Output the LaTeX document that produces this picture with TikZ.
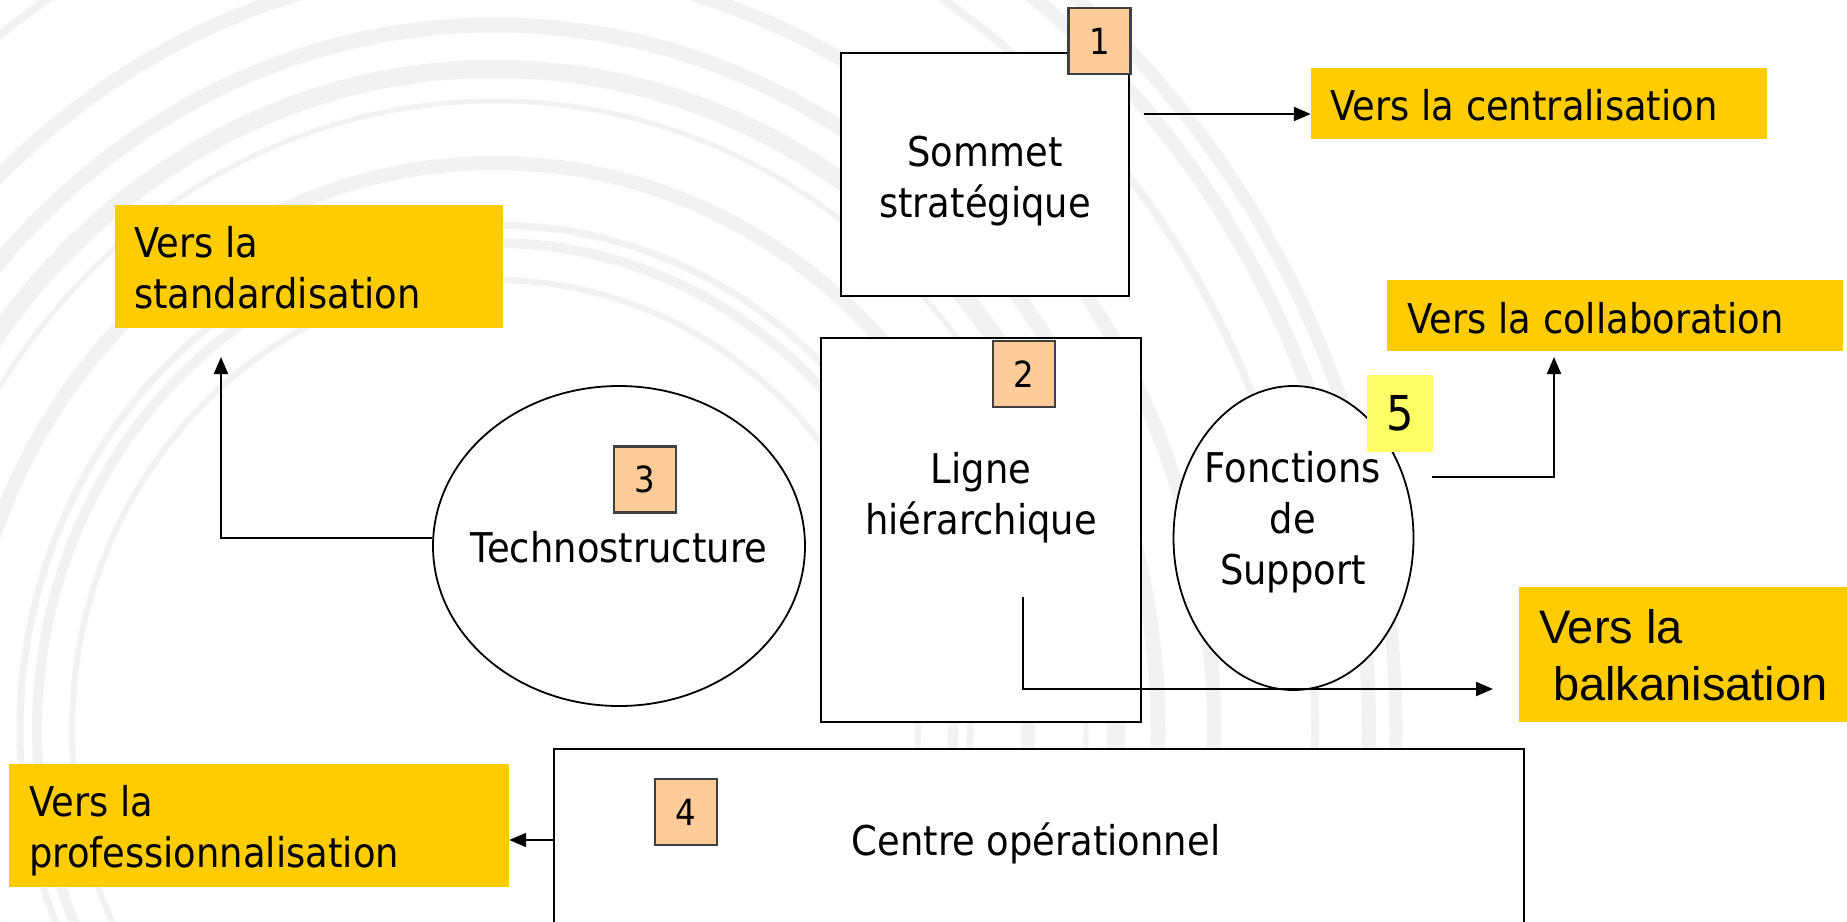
\documentclass[tikz,border=0pt]{standalone}
\usepackage{fontspec}
\setmainfont{DejaVu Sans}[FakeStretch=0.9]
\newfontfamily\balkfont{Liberation Sans}
\usetikzlibrary{arrows.meta,shapes.geometric}
\definecolor{gold}{HTML}{FFCC00}
\definecolor{peach}{HTML}{FFCC99}
\definecolor{lemon}{HTML}{FFFF66}
\definecolor{ringc}{HTML}{F2F2F2}
\begin{document}
\begin{tikzpicture}[x=1pt,y=-1pt,
  box/.style={draw=black, line width=2pt, fill=white, inner sep=0pt},
  oval/.style={ellipse, draw=black, line width=1.8pt, fill=white, inner sep=0pt},
  goal/.style={fill=gold, inner sep=0pt},
  badge/.style={draw=black!75, line width=2.5pt, fill=peach, minimum width=62pt, minimum height=66pt, inner sep=0pt, font=\fontsize{36}{42}\selectfont},
  lbl/.style={inner sep=0pt, align=center, font=\fontsize{41}{51}\selectfont},
  lbll/.style={inner sep=0pt, align=left, anchor=west, font=\fontsize{41}{51}\selectfont},
  arr/.style={line width=2pt, -{Triangle[length=17pt,width=14pt]}},
]
\useasboundingbox (0,0) rectangle (1847,921);
\clip (0,0) rectangle (1847,921);
\fill[white] (0,0) rectangle (1847,921);
% background rings
\foreach \rx/\ry/\w in {423/450/6, 458/487/10, 475/505/7, 533/567/14, 591/629/5, 621/661/18, 663/705/15, 719/765/14, 820/872/8, 874/930/14, 901/958/13}
  \draw[ringc, line width=\w pt] (495,730) ellipse [x radius=\rx pt, y radius=\ry pt];

% main shapes
\node[box, minimum width=288pt, minimum height=243pt] (sommet) at (985,174.5) {};
\node[box, minimum width=320pt, minimum height=384pt] (ligne) at (981,530) {};
\node[box, minimum width=970pt, minimum height=251pt] (op) at (1039,874.5) {};
\node[oval, minimum width=372pt, minimum height=320pt] (techno) at (619,546) {};
\node[oval, minimum width=240pt, minimum height=304pt] (support) at (1293.5,538) {};

% goal boxes
\node[goal, minimum width=388pt, minimum height=123pt] (std) at (309,266.5) {};
\node[goal, minimum width=456pt, minimum height=71pt] (centr) at (1539,103.5) {};
\node[goal, minimum width=456pt, minimum height=71pt] (collab) at (1615,315.5) {};
\node[goal, minimum width=331pt, minimum height=135pt] (balk) at (1684.5,654.5) {};
\node[goal, minimum width=500pt, minimum height=123pt] (prof) at (259,825.5) {};

% labels
\node[lbl] (tsommet) at (985,181.3) {\strut Sommet\\\strut stratégique};
\node[lbl] (tligne) at (981,498.8) {\strut Ligne\\\strut hiérarchique};
\node[lbl] (tsupport) at (1293,522.8) {\strut Fonctions\\\strut de\\\strut Support};
\node[lbl] (ttechno) at (619,551.8) {\strut Technostructure};
\node[lbl] (top) at (1036,844.8) {\strut Centre opérationnel};
\node[lbll] (tstd) at (134,272.3) {\strut Vers la\\\strut standardisation};
\node[lbll] (tcentr) at (1330,109.8) {\strut Vers la centralisation};
\node[lbll] (tcollab) at (1407,322.8) {\strut Vers la collaboration};
\node[lbll] (tprof) at (29,831.8) {\strut Vers la\\\strut professionnalisation};
\node[inner sep=0pt, align=left, anchor=west, font=\balkfont\fontsize{47}{57}\selectfont] (tbalk) at (1539,660.1) {\strut Vers la\\\strut\hspace{14pt}balkanisation};

% connectors
\coordinate (cs) at (1144,114);
\draw[arr] (cs) -- (cs -| centr.west);
\coordinate (st) at (221,357);
\draw[arr] ([yshift=8pt]techno.west) -| (st);
\coordinate (ls) at (1023,597);
\coordinate (bt) at (1493,689);
\draw[arr] (ls) |- (bt);
\coordinate (ss) at (1432,477);
\coordinate (ct) at (1554,357);
\draw[arr] (ss) -| (ct);
\coordinate (pa) at (554,840);
\draw[arr] (pa) -- (pa -| prof.east);

% badges
\node[badge] (b1) at (1099.5,41) {1};
\node[badge] (b2) at (1024,374) {2};
\node[badge] (b3) at (645,479.5) {3};
\node[badge] (b4) at (686,812) {4};
\node[fill=lemon, minimum width=66pt, minimum height=77pt, inner sep=0pt, font=\fontsize{48}{56}\selectfont] (b5) at (1400,413.5) {5};
\end{tikzpicture}
\end{document}
